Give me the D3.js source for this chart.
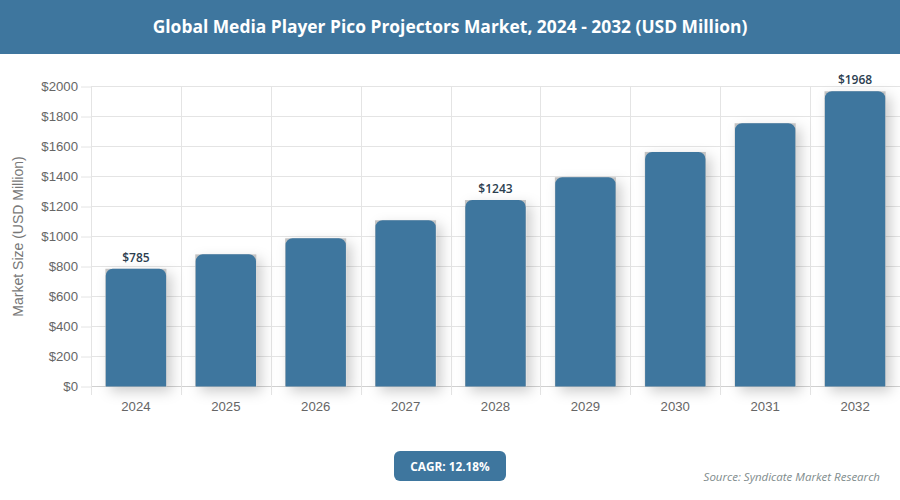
<!DOCTYPE html>
<html>
<head>
<meta charset="utf-8">
<script src="https://cdn.jsdelivr.net/npm/d3@7"></script>
<style>
    html, body { margin: 0; padding: 0; background: #fff; }
    #chart { width: 900px; height: 500px; overflow: hidden; }
    svg { display: block; }
    .tick-label { font-family: "Liberation Sans", Arial, sans-serif; font-size: 13.2px; fill: #666; }
    .axis-title { font-family: "Liberation Sans", Arial, sans-serif; font-size: 14px; fill: #777; }
    .head { font-family: "Open Sans", sans-serif; }
</style>
</head>
<body>
<div id="chart"></div>
<script>
var years = ["2024", "2025", "2026", "2027", "2028", "2029", "2030", "2031", "2032"]
var marketSize = [785, 881, 988, 1108, 1243, 1395, 1564, 1755, 1968]
var labelledYears = ["2024", "2028", "2032"]
var yTicks = [0, 200, 400, 600, 800, 1000, 1200, 1400, 1600, 1800, 2000]

var blue = "#3e769e"

var svg = d3.select("#chart").append("svg")
    .attr("width", 900)
    .attr("height", 500)

var defs = svg.append("defs")
var shadow = defs.append("filter")
    .attr("id", "bar-shadow")
    .attr("x", "-40%").attr("y", "-10%")
    .attr("width", "190%").attr("height", "130%")
shadow.append("feDropShadow")
    .attr("dx", 5).attr("dy", 5)
    .attr("stdDeviation", 6.5)
    .attr("flood-color", "#000")
    .attr("flood-opacity", 0.2)

// header band
svg.append("rect")
    .attr("width", 900)
    .attr("height", 54)
    .attr("fill", blue)

svg.append("text")
    .attr("class", "head")
    .attr("x", 450)
    .attr("y", 33)
    .attr("text-anchor", "middle")
    .attr("font-size", 17.4)
    .attr("font-weight", 700)
    .attr("fill", "#fff")
    .text("Global Media Player Pico Projectors Market, 2024 - 2032 (USD Million)")

var x = d3.scaleBand()
    .domain(years)
    .range([91, 900])
    .paddingInner(0.32)
    .paddingOuter(0.16)

var y = d3.scaleLinear()
    .domain([0, 2000])
    .range([386.5, 86.5])

// grid lines and tick marks
var yAxis = svg.append("g")
    .attr("transform", "translate(91,0)")
    .call(d3.axisLeft(y).tickValues(yTicks).tickSize(10).tickPadding(3).tickFormat(d => "$" + d))
yAxis.select(".domain").remove()
yAxis.selectAll("line").attr("stroke", "#e4e4e4")
yAxis.selectAll("text").attr("class", "tick-label")

svg.append("g").selectAll("line")
    .data(yTicks)
    .join("line")
    .attr("x1", 91)
    .attr("x2", 900)
    .attr("y1", d => y(d))
    .attr("y2", d => y(d))
    .attr("stroke", d => d == 0 ? "#d0d0d0" : "#e4e4e4")

var step = x.step()
svg.append("g").selectAll("line")
    .data(years)
    .join("line")
    .attr("x1", d => Math.round(x(d) - (step - x.bandwidth()) / 2) + 0.5)
    .attr("x2", d => Math.round(x(d) - (step - x.bandwidth()) / 2) + 0.5)
    .attr("y1", 86.5)
    .attr("y2", 395)
    .attr("stroke", "#e4e4e4")

var xAxis = svg.append("g")
    .attr("transform", "translate(0,386.5)")
    .call(d3.axisBottom(x).tickSize(0).tickPadding(15))
xAxis.select(".domain").remove()
xAxis.selectAll("text").attr("class", "tick-label")

svg.append("text")
    .attr("class", "axis-title")
    .attr("transform", "translate(22.5,236.5) rotate(-90)")
    .attr("text-anchor", "middle")
    .text("Market Size (USD Million)")

var bars = svg.append("g").selectAll("g")
    .data(years)
    .join("g")

// square grey backing shows at the rounded corners of each bar
bars.append("rect")
    .attr("x", d => x(d))
    .attr("y", (d, i) => y(marketSize[i]))
    .attr("width", x.bandwidth())
    .attr("height", (d, i) => y(0) - y(marketSize[i]))
    .attr("fill", "#c2c2c2")
    .attr("filter", "url(#bar-shadow)")

bars.append("path")
    .attr("fill", blue)
    .attr("d", (d, i) => {
        var x0 = x(d) + 0.4, x1 = x(d) + x.bandwidth() - 0.4, top = y(marketSize[i]), r = 7
        return `M${x0},${y(0)}V${top + r}A${r},${r} 0 0 1 ${x0 + r},${top}H${x1 - r}A${r},${r} 0 0 1 ${x1},${top + r}V${y(0)}Z`
    })

svg.append("g").selectAll("text")
    .data(labelledYears)
    .join("text")
    .attr("class", "head")
    .attr("x", d => x(d) + x.bandwidth() / 2)
    .attr("y", d => y(marketSize[years.indexOf(d)]) - 7)
    .attr("text-anchor", "middle")
    .attr("font-size", 12)
    .attr("font-weight", 600)
    .attr("fill", "#2c3e50")
    .text(d => "$" + marketSize[years.indexOf(d)])

// CAGR pill
svg.append("rect")
    .attr("x", 394)
    .attr("y", 451)
    .attr("width", 112)
    .attr("height", 30)
    .attr("rx", 6)
    .attr("fill", blue)

svg.append("text")
    .attr("class", "head")
    .attr("x", 450)
    .attr("y", 470.5)
    .attr("text-anchor", "middle")
    .attr("font-size", 11.8)
    .attr("font-weight", 700)
    .attr("fill", "#fff")
    .text("CAGR: 12.18%")

svg.append("text")
    .attr("class", "head")
    .attr("x", 880)
    .attr("y", 480.5)
    .attr("text-anchor", "end")
    .attr("font-size", 11.5)
    .attr("font-style", "italic")
    .attr("fill", "#7f8c8d")
    .text("Source: Syndicate Market Research")
</script>
</body>
</html>
